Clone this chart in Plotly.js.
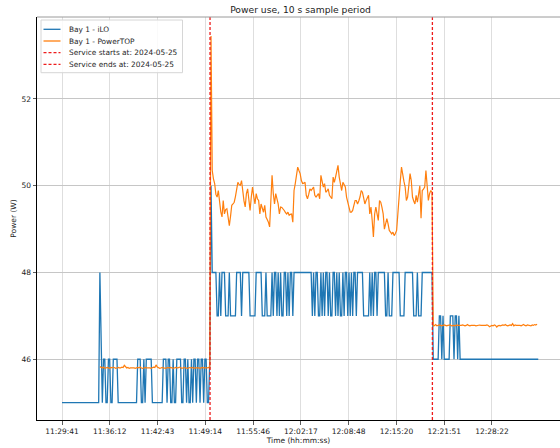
<!DOCTYPE html>
<html><head><meta charset="utf-8">
<script src="https://cdn.plot.ly/plotly-3.0.1.min.js"></script>
<style>html,body{margin:0;padding:0;overflow:hidden;background:#fff}#chart{width:560px;height:448px}</style>
</head><body><div id="chart"></div>
<script>
const dateStr = '2024-05-25';
const startTime = '11:29:41';
const samplePeriodS = 10;

// Bay 1 - iLO power (W), one sample every 10 s from startTime
const iloW = [
45,45,45,45,45,45,45,45,45,45, 45,45,45,45,45,45,45,45,45,45, 45,45,45,45,45,45,45,45,45,45, 45,
48,46,45,46,46,45,45,46,46,45,45,46,46,46,46,45,
45,45,45,45,45,45,45,45,45,45,45,45,45,45,45,
46,46,46,45,45,46,45,46,46,46,46,46,45,
45,45,45,45,45,45,45,45,
46,46,46,45,46,46,45,45,46,45,45,46,46,46,46,45,45,46,46,45,46,45,45,46,45,46,46,45,46,46,45,46,46,45,46,46,45,45,46,
50,
48,48,48,48,
47,47,48,47,
48,48,48,
47,47,47,48,47,47,47,47,47,
48,48,48,48,47,48,48,48,48,48,48,
47,47,47,47,47,
48,48,48,48,48,
47,47,47,48,47,47,47,47,
48,47,48,48,47,48,47,48,47,47,48,48,47,48,47,48,48,47,48,
48,48,48,48,48,48,48,48,48,48,48,48,48,48,
47,48,47,48,48,47,47,48,47,48, 47,48,48,47,48,47,47,48,48,47, 48,47,48,47,47,48,47,48,48,47, 48,47,48,47,48,48,47,
48,48,48,48,48,
47,47,47,47,47,
48,47,48,47,48,48,47,48,
48,48,48,48,48,
47,47,48,47,47,47,
48,48,48,48,48,48,
47,47,47,47,
48,48,48,48,48,48,48,
47,47,47,
48,
47,47,47,
48,48,48,48,48,48,48,48,48,
46,46,46,46,46,
47,47,46,47,
46,46,46,46,46,
47,47,47,
46,
47,47,46,47,
46,46,46,46,46,46,46,46,46,46, 46,46,46,46,46,46,46,46,46,46, 46,46,46,46,46,46,46,46,46,46,
46,46,46,46,46,46,46,46,46,46, 46,46,46,46,46,46,46,46,46,46, 46,46,46,46,46,46,46,46,46,46,
46,46,46,46,46
];

// Bay 1 - PowerTOP power (W), first sample is sample number powertopStartIndex of the iLO timeline
const powertopStartIndex = 31;
const powertopW = [
45.83,45.81,45.80,45.82,45.79,45.80,45.81,45.80,45.79,45.81,
45.80,45.82,45.80,45.79,45.80,45.81,45.80,45.80,45.82,45.81,
45.86,45.83,45.80,45.81,45.79,45.80,45.80,45.81,45.80,45.79,
45.80,45.81,45.80,45.82,45.80,45.79,45.80,45.81,45.80,45.80,
45.81,45.80,45.79,45.80,45.82,45.81,45.87,45.82,45.80,45.79,
45.80,45.81,45.80,45.80,45.79,45.81,45.80,45.80,45.81,45.80,
45.79,45.80,45.81,45.80,45.80,45.82,45.80,45.79,45.80,45.81,
45.80,45.80,45.79,45.81,45.80,45.80,45.81,45.79,45.80,45.80,
45.81,45.80,45.79,45.80,45.81,45.80,45.80,45.79,45.80,45.81,
45.80,
53.45,
50.35,50.16,50.05,49.80,49.74,49.89,49.58,49.40,49.28,49.66,
49.35,49.45,49.47,49.20,49.08,49.30,49.55,49.58,49.62,49.75,
49.89,50.08,50.03,50.01,50.12,49.82,49.65,49.51,49.82,49.93,
49.60,49.43,49.74,49.97,49.75,49.58,49.82,49.70,49.66,49.35,
49.58,49.45,49.39,49.55,49.28,49.22,49.16,49.05,49.60,50.24,
49.82,49.58,49.82,49.70,49.58,49.35,49.51,49.50,49.47,49.43,
49.38,49.35,49.39,49.32,49.34,49.35,49.16,49.89,50.05,50.20,
50.43,50.35,50.28,50.12,50.05,50.06,50.08,49.78,49.70,49.80,
49.93,49.89,49.92,49.97,49.78,49.74,49.78,49.82,49.70,50.24,
50.10,49.97,50.05,49.85,49.88,49.93,49.78,49.72,49.70,50.20,
50.08,50.20,50.32,50.47,50.20,50.05,49.89,50.08,50.00,49.97,
49.74,49.62,49.50,49.39,49.39,49.43,49.55,49.66,49.66,49.58,
49.65,49.74,49.89,49.85,49.72,49.58,49.66,49.72,49.78,49.35,
49.51,49.20,48.82,49.35,49.51,49.35,49.20,49.66,49.62,49.50,
49.35,49.00,49.10,49.24,49.12,48.97,48.93,48.89,48.93,48.85,
48.90,48.97,49.35,49.82,50.10,50.43,50.20,50.10,49.97,49.66,
49.74,50.00,50.28,50.12,49.74,49.65,49.58,49.78,49.62,49.80,
50.00,49.25,49.89,49.92,49.97,50.35,50.00,49.66,49.82,49.89,
49.85,
46.76,46.78,46.80,46.77,46.78,46.79,46.78,46.77,46.78,46.79,
46.78,46.77,46.78,46.78,46.79,46.77,46.78,46.78,46.77,46.79,
46.78,46.78,46.77,46.78,46.79,46.78,46.77,46.78,46.80,46.78,
46.77,46.78,46.78,46.79,46.78,46.77,46.78,46.78,46.79,46.78,
46.78,46.77,46.78,46.78,46.79,46.78,46.75,46.76,46.78,46.77,
46.79,46.78,46.74,46.77,46.78,46.77,46.78,46.79,46.78,46.80,
46.78,46.77,46.78,46.79,46.78,46.82,46.77,46.79,46.78,46.78,
46.79,46.78,46.77,46.78,46.80,46.78,46.77,46.79,46.78,46.78,
46.77,46.79,46.78,46.80,46.79,46.81
];

const serviceStart = '11:49:53';
const serviceEnd = '12:20:14';
const tickLabels = ['11:29:41','11:36:12','11:42:43','11:49:14','11:55:46','12:02:17','12:08:48','12:15:20','12:21:51','12:28:22'];
const yTicks = [46, 48, 50, 52];
const seriesNames = ['Bay 1 - iLO', 'Bay 1 - PowerTOP', 'Service starts at: 2024-05-25', 'Service ends at: 2024-05-25'];
const xRange = ['11:26:16', '12:37:39'];
const yRange = [44.60, 53.89];

const C_BLUE = '#1f77b4', C_ORANGE = '#ff7f0e', C_RED = '#ee1c1c';
const FONT = 'DejaVu Sans, Liberation Sans, sans-serif';

function toSec(hms){const p=hms.split(':').map(Number);return p[0]*3600+p[1]*60+p[2];}
function fmt(s){const z=n=>String(n).padStart(2,'0');const h=Math.floor(s/3600),m=Math.floor((s%3600)/60),ss=s%60;return dateStr+' '+z(h)+':'+z(m)+':'+z(ss);}
const t0 = toSec(startTime);
const iloX = iloW.map((_, i) => fmt(t0 + i*samplePeriodS));
const ptX = powertopW.map((_, i) => fmt(t0 + (i + powertopStartIndex)*samplePeriodS));

// plot-area geometry (pixels) for the hand-drawn legend
const PL = 37, PR = 560, PT = 17, PB = 420;
const px = x => (x - PL) / (PR - PL);
const py = y => 1 - (y - PT) / (PB - PT);

const traces = [
  {x: iloX, y: iloW, type: 'scatter', mode: 'lines', name: seriesNames[0], line: {color: C_BLUE, width: 1.3}},
  {x: ptX, y: powertopW, type: 'scatter', mode: 'lines', name: seriesNames[1], line: {color: C_ORANGE, width: 1.2}},
  {x: [fmt(toSec(serviceStart)), fmt(toSec(serviceStart))], y: [0, 1], yaxis: 'y2', type: 'scatter', mode: 'lines', name: seriesNames[2], line: {color: C_RED, width: 1.3, dash: '3px,2px'}},
  {x: [fmt(toSec(serviceEnd)), fmt(toSec(serviceEnd))], y: [0, 1], yaxis: 'y2', type: 'scatter', mode: 'lines', name: seriesNames[3], line: {color: C_RED, width: 1.3, dash: '3px,2px'}}
];

const legendRows = [29.3, 41, 52.7, 64.3];
const legendStyles = [
  {color: C_BLUE, width: 1.3, dash: 'solid'},
  {color: C_ORANGE, width: 1.3, dash: 'solid'},
  {color: C_RED, width: 1.3, dash: '3px,2px'},
  {color: C_RED, width: 1.3, dash: '3px,2px'}
];
const shapes = [
  {type: 'line', xref: 'paper', yref: 'paper', x0: 0, x1: 1, y0: 1, y1: 1, line: {color: '#9a9a9a', width: 1}},
  {type: 'rect', xref: 'paper', yref: 'paper', x0: px(41), x1: px(182.5), y0: py(72.7), y1: py(20), fillcolor: 'rgba(255,255,255,0.85)', line: {color: '#d6d6d6', width: 1}}
];
const annotations = [];
legendRows.forEach((yy, k) => {
  shapes.push({type: 'line', xref: 'paper', yref: 'paper', x0: px(43.5), x1: px(60.5), y0: py(yy), y1: py(yy), line: legendStyles[k]});
  annotations.push({xref: 'paper', yref: 'paper', x: px(66.5), y: py(yy), text: seriesNames[k], showarrow: false, xanchor: 'left', yanchor: 'middle', font: {family: FONT, size: 7.4, color: '#262626'}});
});

const layout = {
  width: 560, height: 448,
  margin: {l: PL, r: 560 - PR, t: PT, b: 448 - PB, pad: 0},
  paper_bgcolor: '#fff', plot_bgcolor: '#fff',
  showlegend: false,
  title: {text: 'Power use, 10 s sample period', font: {family: FONT, size: 9.2, color: '#222'}, xref: 'paper', x: px(300.5), xanchor: 'center', yref: 'container', y: 1 - 10/448, yanchor: 'middle'},
  xaxis: {
    type: 'date', range: [fmt(toSec(xRange[0])), fmt(toSec(xRange[1]))],
    tickmode: 'array', tickvals: tickLabels.map(t => fmt(toSec(t))), ticktext: tickLabels,
    ticks: 'outside', ticklen: 3.5, tickwidth: 0.8, tickcolor: '#333',
    showline: true, linecolor: '#000', linewidth: 1,
    showgrid: true, gridcolor: '#dedede', gridwidth: 1, zeroline: false,
    tickfont: {family: FONT, size: 7.5, color: '#222'},
    title: {text: 'Time (hh:mm:ss)', font: {family: FONT, size: 7.5, color: '#222'}, standoff: 3},
    automargin: false
  },
  yaxis: {
    range: yRange, tickmode: 'array', tickvals: yTicks, ticktext: yTicks.map(String),
    ticks: 'outside', ticklen: 3.5, tickwidth: 0.8, tickcolor: '#333',
    showline: true, linecolor: '#000', linewidth: 1,
    showgrid: true, gridcolor: '#c6c6c6', gridwidth: 1, zeroline: false,
    tickfont: {family: FONT, size: 7.5, color: '#222'},
    title: {text: 'Power (W)', font: {family: FONT, size: 7.5, color: '#222'}, standoff: 3},
    automargin: false
  },
  yaxis2: {overlaying: 'y', range: [0, 1], visible: false, fixedrange: true},
  shapes: shapes,
  annotations: annotations
};

Plotly.newPlot('chart', traces, layout, {displayModeBar: false, staticPlot: true});
</script>
</body></html>
